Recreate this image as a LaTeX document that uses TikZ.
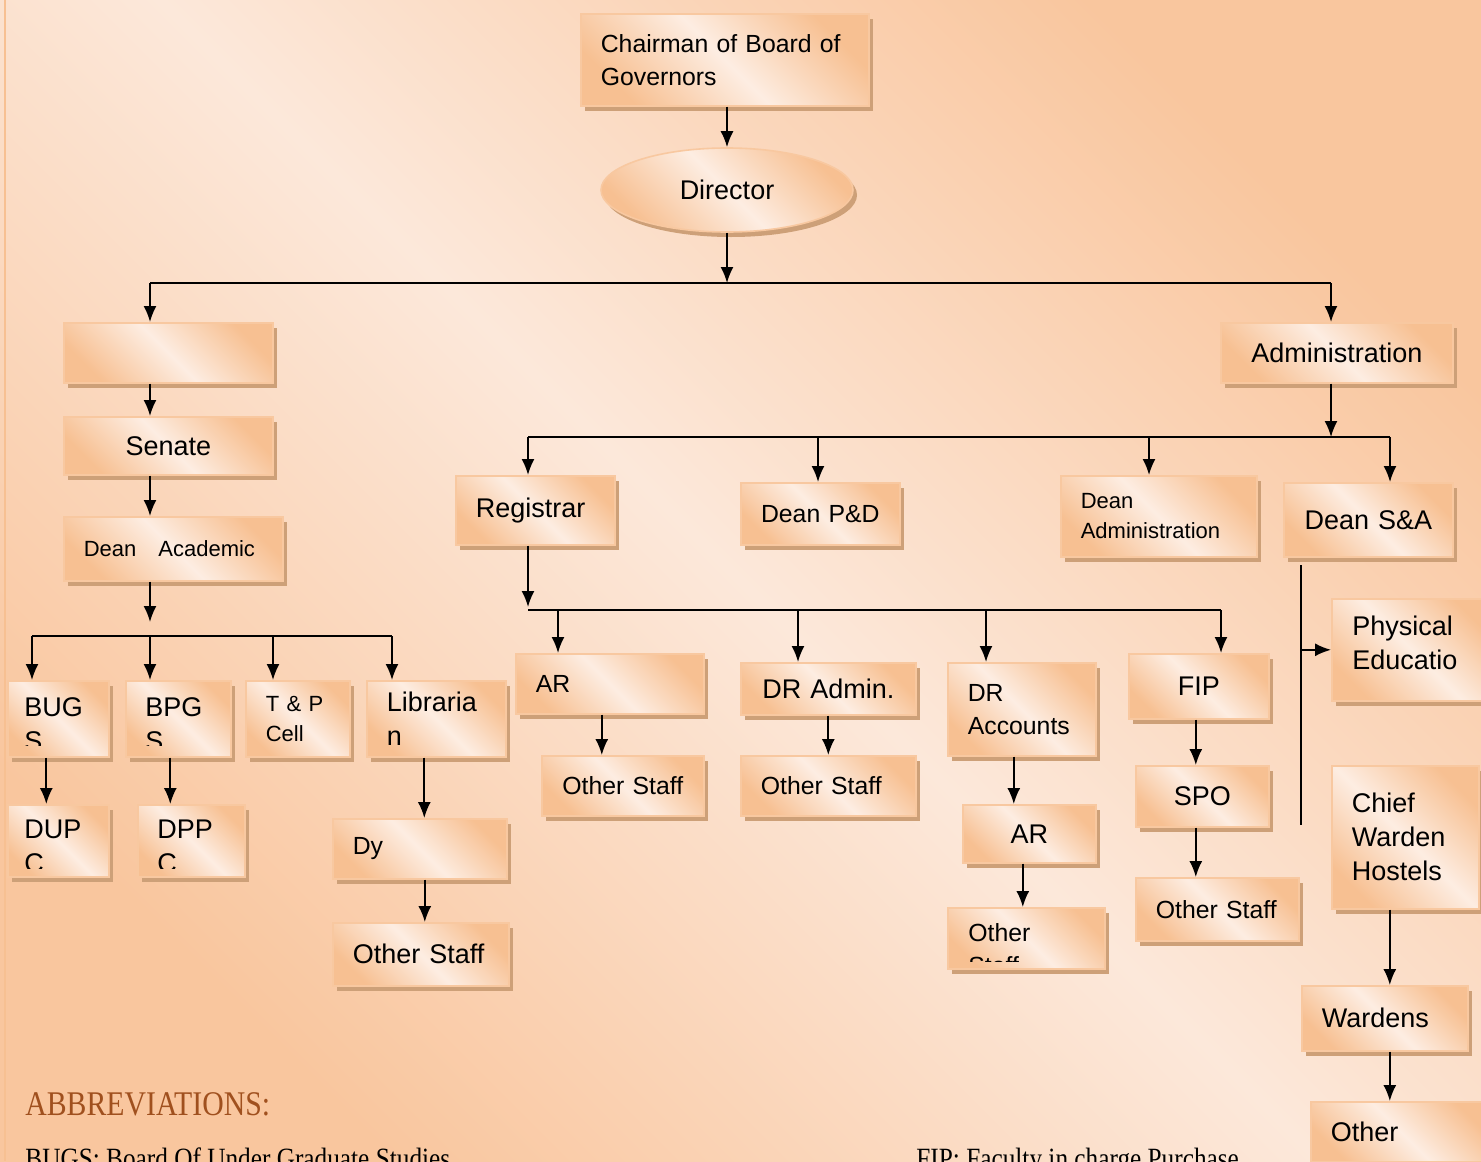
\documentclass[tikz,border=0pt]{standalone}
\usepackage{fontspec}
\setmainfont{Liberation Sans}
\newfontfamily\abbrfont[FakeStretch=0.86]{Liberation Serif}
\usetikzlibrary{shapes,arrows.meta,shadows}

\definecolor{bglight}{RGB}{252,232,218}
\definecolor{bgorange}{RGB}{249,198,158}
\definecolor{boxlight}{RGB}{253,237,226}
\definecolor{boxorange}{RGB}{247,192,146}
\definecolor{boxline}{RGB}{248,200,160}
\definecolor{shadowtan}{RGB}{205,160,120}
\definecolor{abbrcol}{RGB}{160,80,30}

\newcommand{\bigtxt}{\fontsize{13.5}{17}\selectfont}
\newcommand{\midtxt}{\fontsize{12.4}{16.5}\selectfont}
\newcommand{\smalltxt}{\fontsize{11}{15}\selectfont}

\tikzstyle{box} = [rectangle, draw=boxline, line width=0.8pt,
    top color=boxorange, bottom color=boxorange, middle color=boxlight, shading angle=-45,
    drop shadow={shadow xshift=2pt, shadow yshift=-2.5pt, fill=shadowtan, opacity=1},
    anchor=north west, inner xsep=10pt, align=left, font=\bigtxt]
\tikzstyle{oval} = [ellipse, draw=boxline, line width=0.8pt,
    top color=boxorange, bottom color=boxorange, middle color=boxlight, shading angle=-45,
    drop shadow={shadow xshift=2pt, shadow yshift=-2.5pt, fill=shadowtan, opacity=1},
    minimum width=126pt, minimum height=42pt, inner sep=0pt, font=\bigtxt]
\tikzstyle{cut} = [anchor=north west, inner sep=0pt, align=left, font=\bigtxt]
\tikzstyle{line} = [draw, line width=0.9pt, -{Latex[length=8pt,width=6.5pt]}]
\tikzstyle{bus} = [draw, line width=0.9pt]
\tikzstyle{note} = [anchor=base west, inner sep=0pt]

\begin{document}
\begin{tikzpicture}[x=0.5pt, y=-0.5pt]
 \useasboundingbox (0,0) rectangle (1481,1161);
 \clip (0,0) rectangle (1481,1161);
 \shade [top color=bgorange, bottom color=bgorange, middle color=bglight, shading angle=-45] (0,0) rectangle (1481,1161);
 \draw [boxorange, line width=1pt] (5,0) -- (5,1161);

 % top of the chart
 \node [box, font=\midtxt, text width=124pt, minimum height=46pt] (chair) at (580,13) {Chairman of Board of\\Governors};
 \node [oval] (director) at (727,190) {Director};

 % academic side
 \node [box, text width=84.5pt, minimum height=30pt] (blank) at (63,322) {};
 \node [box, align=center, text width=84.5pt, minimum height=29pt] (senate) at (63,416) {Senate};
 \node [box, font=\smalltxt, text width=89.5pt, minimum height=32pt] (deanac) at (63,516) {Dean\quad Academic};
 \node [box, text width=30.5pt, minimum height=38pt] (bugs) at (7,680) {};
 \node [box, text width=32.5pt, minimum height=38pt] (bpgs) at (125,680) {};
 \node [box, font=\smalltxt, text width=32pt, minimum height=38pt] (tpcell) at (245,680) {T \& P\\Cell};
 \node [box, text width=49.5pt, minimum height=38pt] (librarian) at (366,680) {Libraria\\n};
 \node [box, text width=30.5pt, minimum height=36pt] (dupc) at (7,804) {};
 \node [box, text width=33.5pt, minimum height=36pt] (dppc) at (137,804) {};
 \node [box, font=\midtxt, text width=67pt, minimum height=30pt] (dy) at (332,818) {Dy};
 \node [box, text width=68pt, minimum height=31.5pt] (libstaff) at (332,922) {Other Staff};

 % administration side
 \node [box, align=center, text width=96pt, minimum height=30pt] (admin) at (1220,322) {Administration};
 \node [box, text width=59.5pt, minimum height=34.5pt] (registrar) at (455,475) {Registrar};
 \node [box, font=\midtxt, align=center, text width=59.5pt, minimum height=31pt] (deanpd) at (740,482) {Dean P\&D};
 \node [box, font=\smalltxt, text width=78pt, minimum height=40.5pt] (deanadmin) at (1060,475) {Dean\\Administration};
 \node [box, align=center, text width=64.5pt, minimum height=37pt] (deansa) at (1283,482) {Dean S\&A};
 \node [box, font=\midtxt, text width=74pt, minimum height=30pt] (ar) at (515,653) {AR};
 \node [box, font=\midtxt, align=center, text width=61pt, minimum height=30pt] (arstaff) at (541,755) {Other Staff};
 \node [box, align=center, text width=67.5pt, minimum height=26pt] (dradmin) at (740,662) {DR Admin.};
 \node [box, font=\midtxt, text width=67.5pt, minimum height=30pt] (drstaff) at (740,755) {Other Staff};
 \node [box, font=\midtxt, text width=54pt, minimum height=46.5pt] (dracc) at (947,662) {DR\\Accounts};
 \node [box, align=center, text width=46.5pt, minimum height=29pt] (accar) at (962,804) {AR};
 \node [box, text width=58.5pt, minimum height=30.5pt] (accstaff) at (947,907) {};
 \node [box, align=center, text width=50pt, minimum height=32.5pt] (fip) at (1128,653) {FIP};
 \node [box, align=center, text width=46.5pt, minimum height=30.5pt] (spo) at (1135,765) {SPO};
 \node [box, font=\midtxt, text width=61.5pt, minimum height=31.5pt] (fipstaff) at (1135,877) {Other Staff};
 \node [box, text width=60pt, minimum height=51pt] (phys) at (1331,598) {};
 \node [box, text width=53.5pt, minimum height=71.5pt] (chief) at (1331,765) {Chief\\Warden\\Hostels};
 \node [box, text width=63pt, minimum height=32.5pt] (wardens) at (1301,985) {Wardens};
 \node [box, text width=70pt, minimum height=30pt] (other) at (1310,1101) {Other};

 % texts that their boxes cut off
 \begin{scope}
  \clip (bugs.north west) rectangle ([yshift=6pt]bugs.south east);
  \node [cut] (bugstext) at (24,697) {BUG\\S};
 \end{scope}
 \begin{scope}
  \clip (bpgs.north west) rectangle ([yshift=6pt]bpgs.south east);
  \node [cut] (bpgstext) at (145,697) {BPG\\S};
 \end{scope}
 \begin{scope}
  \clip (dupc.north west) rectangle ([yshift=4.5pt]dupc.south east);
  \node [cut] (dupctext) at (24,820) {DUP\\C};
 \end{scope}
 \begin{scope}
  \clip (dppc.north west) rectangle ([yshift=4.5pt]dppc.south east);
  \node [cut] (dppctext) at (157,820) {DPP\\C};
 \end{scope}
 \begin{scope}
  \clip (accstaff.north west) rectangle ([yshift=4pt]accstaff.south east);
  \node [cut, font=\midtxt] (accstafftext) at (968,923) {Other\\Staff};
 \end{scope}
 \begin{scope}
  \clip (phys.north west) rectangle ([xshift=-18pt]phys.south east);
  \node [cut] (physText) at (1352,616) {Physical\\Education};
 \end{scope}

 % bus points
 \coordinate (tb) at (727,283);
 \coordinate (tbL) at (150,283);
 \coordinate (tbR) at (1331,283);
 \coordinate (ab) at (150,636);
 \coordinate (abL) at (32,636);
 \coordinate (abT) at (273,636);
 \coordinate (abR) at (392,636);
 \coordinate (rb) at (1331,437);
 \coordinate (rbL) at (528,437);
 \coordinate (rbP) at (818,437);
 \coordinate (rbA) at (1149,437);
 \coordinate (rbR) at (1390,437);
 \coordinate (gb) at (528,610);
 \coordinate (gbA) at (558,610);
 \coordinate (gbD) at (798,610);
 \coordinate (gbC) at (986,610);
 \coordinate (gbF) at (1221,610);
 \coordinate (saT) at (1301,565);
 \coordinate (saB) at (1301,825);

 \path [line] (chair.south -| director) -- (director.north);
 \path [line] (director) -- (tb);
 \path [bus] (tbL) -- (tbR);
 \path [line] (tbL) -- (tbL |- blank.north);
 \path [line] (tbR) -- (tbR |- admin.north);
 \path [line] (tbL |- blank.south) -- (tbL |- senate.north);
 \path [line] (tbL |- senate.south) -- (tbL |- deanac.north);
 \path [line] (tbL |- deanac.south) -- ([yshift=7pt]ab);
 \path [bus] (abL) -- (abR);
 \path [line] (abL) -- (abL |- bugs.north);
 \path [line] (ab) -- (ab |- bpgs.north);
 \path [line] (abT) -- (abT |- tpcell.north);
 \path [line] (abR) -- (abR |- librarian.north);
 \path [line] ([xshift=-6pt]bugs.south) -- ([xshift=-6pt]bugs.south |- dupc.north);
 \path [line] ([xshift=-4pt]bpgs.south) -- ([xshift=-4pt]bpgs.south |- dppc.north);
 \path [line] ([xshift=-6pt]librarian.south) -- ([xshift=-6pt]librarian.south |- dy.north);
 \path [line] ([xshift=2.5pt]dy.south) -- ([xshift=2.5pt]dy.south |- libstaff.north);

 \path [line] (tbR |- admin.south) -- (rb);
 \path [bus] (rbL) -- (rbR);
 \path [line] (rbL) -- (rbL |- registrar.north);
 \path [line] (rbP) -- (rbP |- deanpd.north);
 \path [line] (rbA) -- (rbA |- deanadmin.north);
 \path [line] (rbR) -- (rbR |- deansa.north);
 \path [line] (rbL |- registrar.south) -- ([yshift=1.5pt]gb);
 \path [bus] (gb) -- (gbF);
 \path [line] (gbA) -- (gbA |- ar.north);
 \path [line] (gbD) -- (gbD |- dradmin.north);
 \path [line] (gbC) -- (gbC |- dracc.north);
 \path [line] (gbF) -- (gbF |- fip.north);
 \path [line] ([xshift=-4pt]ar.south) -- ([xshift=-4pt]ar.south |- arstaff.north);
 \path [line] (dradmin.south) -- (dradmin.south |- drstaff.north);
 \path [line] ([xshift=-4pt]dracc.south) -- ([xshift=-4pt]dracc.south |- accar.north);
 \path [line] ([xshift=-3.25pt]accar.south) -- ([xshift=-3.25pt]accar.south |- accstaff.north);
 \path [line] ([xshift=-1.5pt]fip.south) -- ([xshift=-1.5pt]fip.south |- spo.north);
 \path [line] ([xshift=-1.5pt]fip.south |- spo.south) -- ([xshift=-1.5pt]fip.south |- fipstaff.north);
 \path [bus] (saT) -- (saB);
 \path [line] (saT |- phys.west) -- (phys.west);
 \path [line] ([xshift=-7.75pt]chief.south) -- ([xshift=-7.75pt]chief.south |- wardens.north);
 \path [line] ([xshift=2.5pt]wardens.south) -- ([xshift=2.5pt]wardens.south |- other.north);

 % abbreviations
 \node [note, text=abbrcol, font=\abbrfont\fontsize{17.3}{20}\selectfont] (abbrev) at (25,1115) {ABBREVIATIONS:};
 \node [note, font=\abbrfont\fontsize{14.7}{17}\selectfont] (bugsnote) at (25,1168) {BUGS: Board Of Under Graduate Studies};
 \node [note, font=\abbrfont\fontsize{14.7}{17}\selectfont] (fipnote) at (916,1168) {FIP: Faculty in charge Purchase};
\end{tikzpicture}
\end{document}
